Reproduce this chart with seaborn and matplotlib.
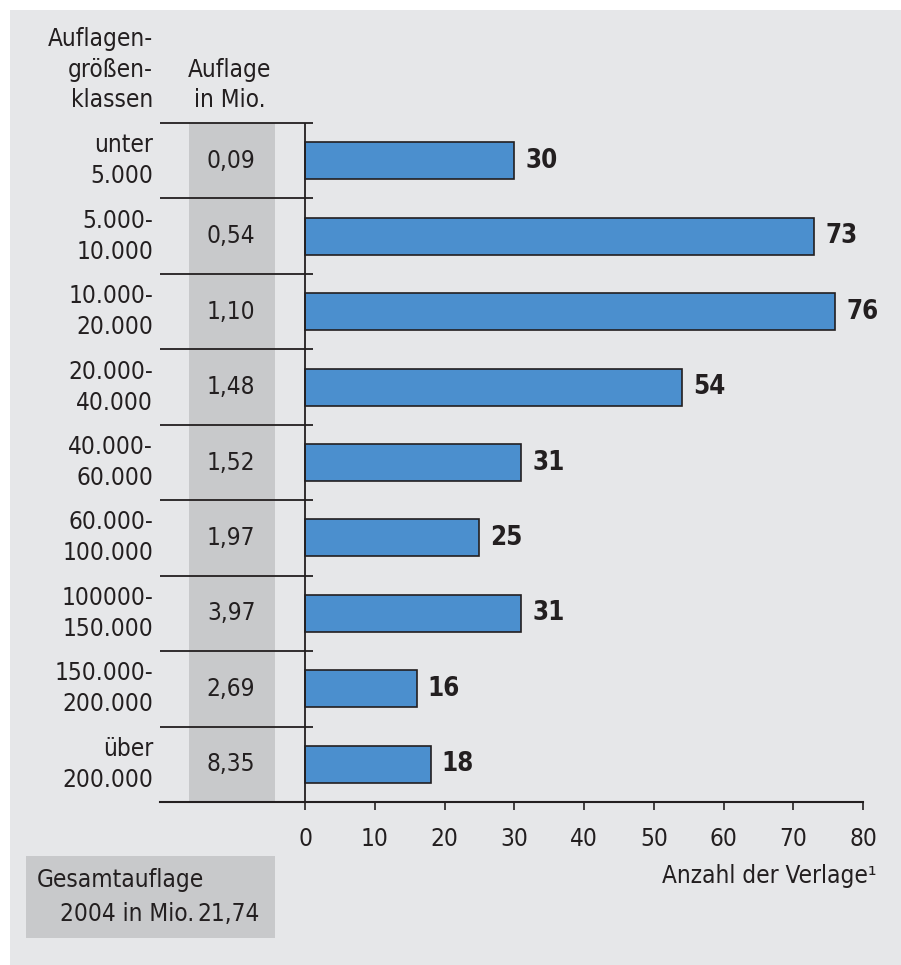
import matplotlib
matplotlib.use("Agg")
import matplotlib.pyplot as plt
import seaborn as sns
import pandas as pd
from matplotlib.patches import Rectangle

# data
classes = ["unter\n5.000", "5.000-\n10.000", "10.000-\n20.000", "20.000-\n40.000",
           "40.000-\n60.000", "60.000-\n100.000", "100000-\n150.000",
           "150.000-\n200.000", "über\n200.000"]
publishers = [30, 73, 76, 54, 31, 25, 31, 16, 18]
circulation = ["0,09", "0,54", "1,10", "1,48", "1,52", "1,97", "3,97", "2,69", "8,35"]
total_label = "21,74"
x_ticks = [0, 10, 20, 30, 40, 50, 60, 70, 80]

PANEL = "#e6e7e9"
COLGRAY = "#c8c9cb"
BLUE = "#4b8fce"
DARK = "#231f20"
FS = 17.5

sns.set_theme(style="white")
plt.rcParams["font.family"] = ["DejaVu Sans"]
plt.rcParams["font.stretch"] = "condensed"

W, H = 901, 965


def px(x, y):
    return x / W, 1 - y / H


fig = plt.figure(figsize=(W / 100, H / 100), dpi=100, facecolor="white")
fig.add_artist(Rectangle((10 / W, 0), 1 - 10 / W, 1 - 10 / H,
                         transform=fig.transFigure, color=PANEL, lw=0, zorder=-2))

ax = fig.add_axes([160 / W, 1 - 802 / H, 703 / W, 679 / H])
ax.patch.set_visible(False)

df = pd.DataFrame({"klasse": classes, "verlage": publishers})
sns.barplot(data=df, x="verlage", y="klasse", orient="h", color=BLUE,
            saturation=1, edgecolor=DARK, linewidth=1.2, width=0.49, ax=ax, zorder=3)

x_left = -20.79
ax.set_xlim(x_left, 80)
ax.set_ylim(8.5, -0.5)
ax.set_xticks(x_ticks)
ax.set_xlabel("")
ax.set_ylabel("")

# grey column with circulation figures
ax.axvspan(-16.63, -4.30, color=COLGRAY, lw=0, zorder=0)
for i, v in enumerate(circulation):
    ax.text(-10.6, i, v, ha="center", va="center", fontsize=FS, color=DARK)

# row separators and the value axis
ax.hlines([i - 0.5 for i in range(len(classes))], x_left, 1.15,
          color=DARK, lw=1.3, clip_on=False, zorder=2)
ax.axvline(0, color=DARK, lw=1.3, zorder=4)

for s in ["left", "top", "right"]:
    ax.spines[s].set_visible(False)
ax.spines["bottom"].set_color(DARK)
ax.spines["bottom"].set_linewidth(1.5)

ax.tick_params(axis="x", direction="out", length=6, width=1.2, color=DARK,
               labelsize=FS, labelcolor=DARK, pad=12, bottom=True)
ax.set_yticks(range(len(classes)))
ax.set_yticklabels(classes, linespacing=1.37, va="center", ha="right",
                   fontsize=FS, color=DARK)
ax.tick_params(axis="y", length=0, pad=5, left=False)

ax.bar_label(ax.containers[0], padding=8, fontsize=18.5, fontweight="bold", color=DARK)

# headers
fig.text(*px(153, 107), "Auflagen-\ngrößen-\nklassen", ha="right", va="baseline",
         ma="right", fontsize=FS, color=DARK, linespacing=1.33)
fig.text(*px(230, 107), "Auflage\nin Mio.", ha="center", va="baseline",
         ma="center", fontsize=FS, color=DARK, linespacing=1.33)

fig.text(*px(876, 883), "Anzahl der Verlage¹", ha="right", va="baseline",
         fontsize=FS, color=DARK)

# total box
fig.add_artist(Rectangle((26 / W, 1 - 938 / H), 249 / W, 82 / H,
                         transform=fig.transFigure, color=COLGRAY, lw=0, zorder=-1))
fig.text(*px(37, 887), "Gesamtauflage", va="baseline", fontsize=FS, color=DARK)
fig.text(*px(60, 921), "2004 in Mio.", va="baseline", fontsize=FS, color=DARK)
fig.text(*px(260, 921), total_label, ha="right", va="baseline", fontsize=FS, color=DARK)

fig.savefig("out.png", dpi=100, facecolor="white")
plt.close()
